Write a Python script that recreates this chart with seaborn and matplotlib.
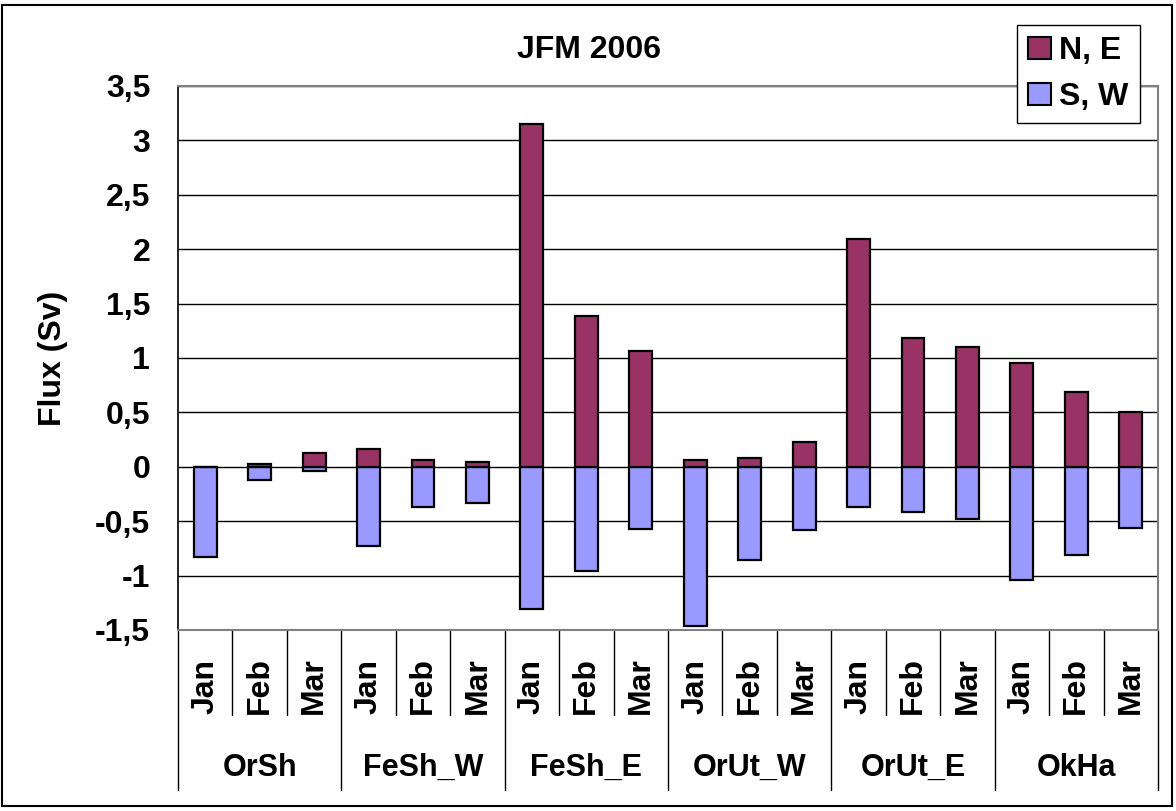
import numpy as np
import pandas as pd
import matplotlib.pyplot as plt
import seaborn as sns
from matplotlib.patches import Patch, Rectangle
from matplotlib.lines import Line2D

# data
sections = ["OrSh", "FeSh_W", "FeSh_E", "OrUt_W", "OrUt_E", "OkHa"]
months = ["Jan", "Feb", "Mar"]
north_east = [0.0, 0.024, 0.127,
              0.167, 0.064, 0.042,
              3.15, 1.39, 1.06,
              0.06, 0.085, 0.23,
              2.09, 1.18, 1.10,
              0.955, 0.685, 0.50]
south_west = [-0.83, -0.124, -0.042,
              -0.724, -0.373, -0.33,
              -1.31, -0.96, -0.57,
              -1.46, -0.855, -0.585,
              -0.37, -0.42, -0.48,
              -1.04, -0.81, -0.56]
title = "JFM 2006"
ylabel = "Flux (Sv)"
yticks = [-1.5, -1, -0.5, 0, 0.5, 1, 1.5, 2, 2.5, 3, 3.5]

c_ne = "#993366"
c_sw = "#9999FF"

sns.set_style("white")
plt.rcParams["font.family"] = ["Liberation Sans", "DejaVu Sans"]
plt.rcParams["text.color"] = "black"
plt.rcParams["axes.labelcolor"] = "black"
plt.rcParams["ytick.color"] = "black"

df = pd.DataFrame({
    "idx": [str(i) for i in range(len(north_east))],
    "ne": north_east,
    "sw": south_west,
})
order = list(df["idx"])

fig = plt.figure(figsize=(11.76, 8.11), dpi=100)
ax = fig.add_axes([178 / 1176, 1 - 630 / 811, (1158 - 178) / 1176, (630 - 86) / 811])

sns.barplot(data=df, x="idx", y="sw", order=order, color=c_sw, saturation=1,
            edgecolor="black", linewidth=1.6, width=0.42, ax=ax, zorder=3)
sns.barplot(data=df, x="idx", y="ne", order=order, color=c_ne, saturation=1,
            edgecolor="black", linewidth=1.6, width=0.42, ax=ax, zorder=3)

ax.set_xlim(-0.5, len(order) - 0.5)
ax.set_ylim(-1.5, 3.5)
ax.set_yticks(yticks)
ax.set_yticklabels([f"{v:g}".replace(".", ",") for v in yticks],
                   fontsize=23, fontweight="bold")
ax.tick_params(axis="y", direction="out", length=8, width=1, color="black", pad=12)
ax.set_xticks([])
ax.set_xlabel("")
ax.set_ylabel(ylabel, fontsize=23, fontweight="bold")
ax.yaxis.set_label_coords(-0.112, 0.5)
for y in yticks:
    ax.axhline(y, color="black", lw=1, zorder=1)
for s in ["top", "right", "bottom"]:
    ax.spines[s].set_color("#808080")
    ax.spines[s].set_linewidth(1.5)
ax.spines["left"].set_color("black")
ax.spines["left"].set_linewidth(1.2)

fig.text(589 / 1176, 1 - 50 / 811, title, ha="center", va="center",
         fontsize=23, fontweight="bold")

# two-level category axis below the plot
tr = ax.get_xaxis_transform()
for i in range(len(order) + 1):
    low = -0.295 if i % 3 == 0 else -0.157
    ax.add_line(Line2D([i - 0.5, i - 0.5], [0, low], transform=tr,
                       color="black", lw=1, clip_on=False))
for i in range(len(order)):
    ax.annotate(months[i % 3], xy=(i, 125), xycoords=("data", "figure pixels"),
                rotation=90, ha="center", va="center",
                fontsize=23, fontweight="bold")
for g, name in enumerate(sections):
    ax.annotate(name, xy=(g * 3 + 1, 43), xycoords=("data", "figure pixels"),
                ha="center", va="center", fontsize=22, fontweight="bold")

handles = [Patch(facecolor=c_ne, edgecolor="black", lw=1.5, label="N, E"),
           Patch(facecolor=c_sw, edgecolor="black", lw=1.5, label="S, W")]
leg = fig.legend(handles=handles, loc="upper right",
                 bbox_to_anchor=(1140 / 1176, 1 - 25 / 811),
                 frameon=True, fancybox=False, framealpha=1, edgecolor="black",
                 prop={"size": 23, "weight": "bold"},
                 handlelength=0.72, handleheight=0.72, labelspacing=0.5,
                 handletextpad=0.25, borderpad=0.35, borderaxespad=0)
leg.get_frame().set_linewidth(1)

fig.patches.append(Rectangle((2 / 1176, 5 / 811), 1170 / 1176, 801 / 811,
                             transform=fig.transFigure, fill=False,
                             edgecolor="black", lw=1.5))

fig.savefig("out.png", dpi=100)
